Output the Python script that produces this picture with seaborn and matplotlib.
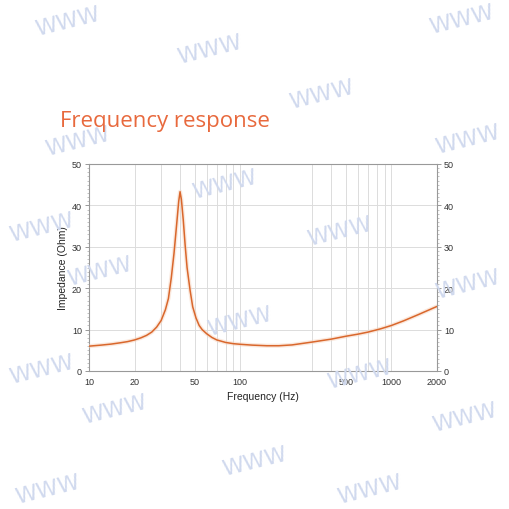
import matplotlib
matplotlib.use("Agg")
import matplotlib.pyplot as plt
import seaborn as sns
import pandas as pd
from matplotlib.ticker import FixedLocator, NullFormatter, MultipleLocator

# ---- data ----
freq_hz = [10, 12, 14, 16, 18, 20, 22, 24, 26, 28, 30, 32, 33.5, 35, 36.5, 38,
           39.2, 40, 40.8, 42, 43.2, 44.5, 46.6, 48.5, 51, 53.5, 56, 60, 65, 70,
           80, 90, 100, 120, 150, 180, 220, 300, 400, 500, 600, 700, 850, 1000,
           1200, 1500, 2000]
impedance_ohm = [6.0, 6.25, 6.5, 6.8, 7.1, 7.5, 8.0, 8.6, 9.4, 10.6, 12.2, 14.8,
                 17.5, 22.5, 28.5, 35.5, 41.0, 43.3, 41.5, 36.5, 30.5, 25.0, 19.5,
                 15.5, 12.8, 11.0, 10.0, 9.0, 8.1, 7.5, 6.9, 6.6, 6.45, 6.25, 6.1,
                 6.1, 6.3, 7.0, 7.7, 8.4, 8.9, 9.4, 10.2, 11.0, 12.1, 13.6, 15.6]
x_tick_values = [10, 20, 50, 100, 500, 1000, 2000]
x_tick_labels = ["10", "20", "50", "100", "500", "1000", "2000"]
x_grid_values = [10, 20, 30, 40, 50, 60, 70, 80, 90, 100,
                 300, 400, 500, 600, 700, 800, 900, 1000, 2000]
y_tick_values = [0, 10, 20, 30, 40, 50]
title_text = "Frequency response"
x_label = "Frequency (Hz)"
y_label = "Impedance (Ohm)"
watermark_text = "WWW"
watermark_pos = [(68, 22), (210, 50), (322, 95), (462, 20), (468, 140), (78, 142),
                 (225, 185), (340, 232), (42, 228), (100, 272), (468, 285),
                 (240, 322), (360, 375), (42, 370), (115, 410), (465, 418),
                 (255, 462), (48, 490), (370, 490)]

df = pd.DataFrame({"freq": freq_hz, "imp": impedance_ohm})

sns.set_theme(style="white")
plt.rcParams["font.family"] = ["Liberation Sans", "DejaVu Sans"]

W = H = 510
fig = plt.figure(figsize=(5.1, 5.1), dpi=100)
ax = fig.add_axes([89 / W, 1 - 372 / H, (437 - 89) / W, (372 - 165) / H])

# watermarks
for (px, py) in watermark_pos:
    fig.text(px / W, 1 - py / H, watermark_text, color="#d0d9ee", fontsize=16,
             fontweight="normal", rotation=14, ha="center", va="center",
             family="DejaVu Sans", zorder=0)

sns.lineplot(data=df, x="freq", y="imp", ax=ax, color="#f7d3bd", lw=3.0,
             alpha=0.5, zorder=3)
sns.lineplot(data=df, x="freq", y="imp", ax=ax, color="#d9672c", lw=1.1, zorder=4)

ax.set_xscale("log")
ax.set_xlim(10, 2000)
ax.set_ylim(0, 50)
ax.set_facecolor("none")
ax.xaxis.set_major_locator(FixedLocator(x_tick_values))
ax.set_xticklabels(x_tick_labels)
ax.xaxis.set_minor_locator(FixedLocator(x_grid_values))
ax.xaxis.set_minor_formatter(NullFormatter())
ax.set_yticks(y_tick_values)
ax.yaxis.set_minor_locator(MultipleLocator(1))
ax.grid(True, which="both", axis="x", color="#dcdcdc", lw=0.7)
ax.grid(True, which="major", axis="y", color="#dcdcdc", lw=0.7)
ax.tick_params(axis="x", which="both", length=0, labelsize=6.5, labelcolor="#333333", pad=4)
ax.tick_params(axis="y", which="major", length=3, width=0.6, color="#888888",
               labelsize=6.5, labelcolor="#333333", left=True, right=True,
               labelleft=True, labelright=True, pad=2)
ax.tick_params(axis="y", which="minor", length=1.5, width=0.5, color="#aaaaaa",
               left=True, right=True)
for s in ax.spines.values():
    s.set_color("#999999")
    s.set_linewidth(0.8)
ax.set_xlabel(x_label, fontsize=7.5, color="#222222", labelpad=4)
ax.set_ylabel(y_label, fontsize=7.5, color="#222222", labelpad=3)

fig.text(60 / W, 1 - 121 / H, title_text, color="#e8693d", fontsize=16,
         family=["Open Sans", "DejaVu Sans"], ha="left", va="center")

fig.savefig("out.png", dpi=100, facecolor="white")
